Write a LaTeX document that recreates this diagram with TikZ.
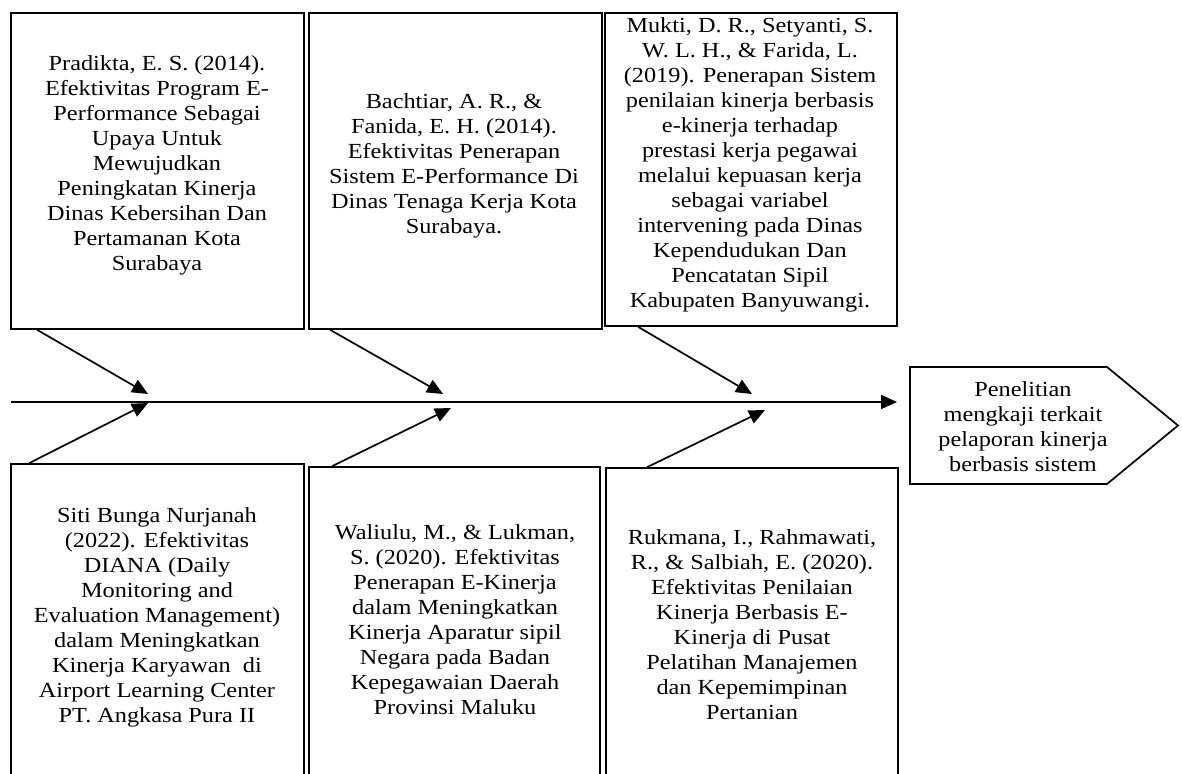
\documentclass[tikz,border=0pt]{standalone}
\usepackage{fontspec}
\newfontfamily\reffont{Liberation Serif}[FakeStretch=1.13]
\usetikzlibrary{arrows.meta}

\tikzset{
    refbox/.style={draw, line width=1.7pt, inner sep=0pt, minimum width=293pt},
    reftext/.style={align=center, inner sep=0pt, font=\reffont\fontsize{21.5}{25}\selectfont},
    bone/.style={line width=1.7pt, -{Triangle[length=16pt,width=14pt]}},
}

\begin{document}
\begin{tikzpicture}[x=1pt, y=-1pt]
            \useasboundingbox (0,0) rectangle (1182,773);
            \clip (0,0) rectangle (1182,773);
            \fill[white] (0,0) rectangle (1182,773);

            \node[refbox, minimum height=316pt] (b1) at (157.5,171) {};
            \node[refbox, minimum height=316pt] (b2) at (455.5,171) {};
            \node[refbox, minimum height=313pt, minimum width=292pt] (b3) at (751,169.5) {};
            \node[refbox, minimum height=336pt] (b4) at (157.5,632) {};
            \node[refbox, minimum height=333pt, minimum width=291pt] (b5) at (454.5,633.5) {};
            \node[refbox, minimum height=332pt, minimum width=292pt] (b6) at (752,634) {};

            \node[reftext] (t1) at (157,165.5) {Pradikta, E. S. (2014).\\ Efektivitas Program E-\\ Performance Sebagai\\ Upaya Untuk\\ Mewujudkan\\ Peningkatan Kinerja\\ Dinas Kebersihan Dan\\ Pertamanan Kota\\ Surabaya};
            \node[reftext] (t2) at (454,165.5) {Bachtiar, A. R., \&\\ Fanida, E. H. (2014).\\ Efektivitas Penerapan\\ Sistem E-Performance Di\\ Dinas Tenaga Kerja Kota\\ Surabaya.};
            \node[reftext] (t3) at (750,165) {Mukti, D. R., Setyanti, S.\\ W. L. H., \& Farida, L.\\ (2019). Penerapan Sistem\\ penilaian kinerja berbasis\\ e-kinerja terhadap\\ prestasi kerja pegawai\\ melalui kepuasan kerja\\ sebagai variabel\\ intervening pada Dinas\\ Kependudukan Dan\\ Pencatatan Sipil\\ Kabupaten Banyuwangi.};
            \node[reftext] (t4) at (157,617) {Siti Bunga Nurjanah\\ (2022). Efektivitas\\ DIANA (Daily\\ Monitoring and\\ Evaluation Management)\\ dalam Meningkatkan\\ Kinerja Karyawan\ \ di\\ Airport Learning Center\\ PT. Angkasa Pura II};
            \node[reftext] (t5) at (455,619.5) {Waliulu, M., \& Lukman,\\ S. (2020). Efektivitas\\ Penerapan E-Kinerja\\ dalam Meningkatkan\\ Kinerja Aparatur sipil\\ Negara pada Badan\\ Kepegawaian Daerah\\ Provinsi Maluku};
            \node[reftext] (t6) at (752,624.5) {Rukmana, I., Rahmawati,\\ R., \& Salbiah, E. (2020).\\ Efektivitas Penilaian\\ Kinerja Berbasis E-\\ Kinerja di Pusat\\ Pelatihan Manajemen\\ dan Kepemimpinan\\ Pertanian};

            \node[reftext] (goal) at (1023,427) {Penelitian\\ mengkaji terkait\\ pelaporan kinerja\\ berbasis sistem};
            \draw[line width=1.7pt, line join=miter] (910,367) -- (1107,367) -- (1178,425.5) -- (1107,484) -- (910,484) -- cycle;

            \coordinate (tail) at (11,402);
            \coordinate (head) at (897,402);
            \coordinate (tip1) at (148,394);
            \coordinate (tip2) at (443,394);
            \coordinate (tip3) at (752,394);
            \coordinate (tip4) at (148,403);
            \coordinate (tip5) at (451,408);
            \coordinate (tip6) at (765,410);

            \draw[bone] (tail) -- (head);
            \draw[bone] ([xshift=27pt]b1.south west) -- (tip1);
            \draw[bone] ([xshift=22pt]b2.south west) -- (tip2);
            \draw[bone] ([xshift=34pt]b3.south west) -- (tip3);
            \draw[bone] ([xshift=19pt]b4.north west) -- (tip4);
            \draw[bone] ([xshift=24pt]b5.north west) -- (tip5);
            \draw[bone] ([xshift=42pt]b6.north west) -- (tip6);
\end{tikzpicture}
\end{document}
